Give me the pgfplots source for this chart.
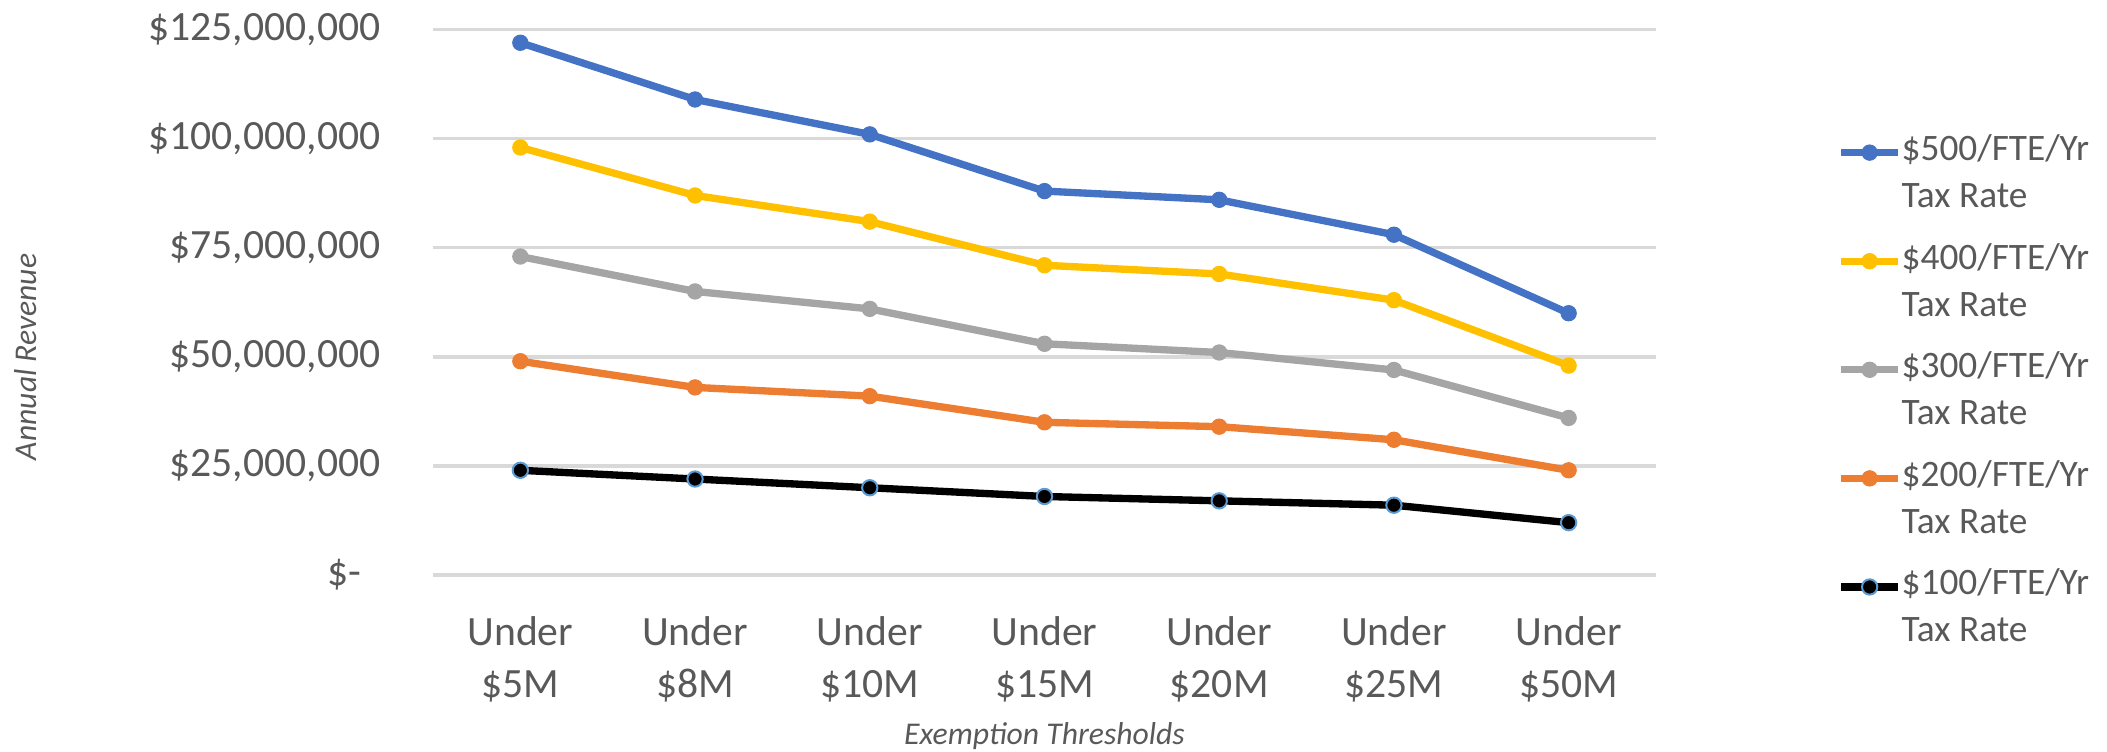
\documentclass[border=0pt]{standalone}
\usepackage{fontspec}
\setmainfont{Carlito}
\usepackage{pgfplots}
\pgfplotsset{compat=1.18}
\definecolor{cblue}{HTML}{4472C4}
\definecolor{cyellow}{HTML}{FFC000}
\definecolor{cgray}{HTML}{A5A5A5}
\definecolor{corange}{HTML}{ED7D31}
\definecolor{cmark}{HTML}{5B9BD5}
\definecolor{ctext}{HTML}{595959}
\definecolor{cgrid}{HTML}{D9D9D9}
\begin{document}
\begin{tikzpicture}
\path[use as bounding box] (-129.9pt,-52.8pt) rectangle (502.2pt,172.5pt);
\begin{axis}[
  at={(0pt,0pt)}, anchor=south west,
  scale only axis, width=366.9pt, height=163.6pt,
  xmin=0.5, xmax=7.5, ymin=0, ymax=125000000,
  xtick={1,...,7},
  xticklabels={Under\\\$5M, Under\\\$8M, Under\\\$10M, Under\\\$15M, Under\\\$20M, Under\\\$25M, Under\\\$50M},
  ytick={0,25000000,50000000,75000000,100000000,125000000},
  yticklabels={\$-\hspace*{5.7pt}, {\$25,000,000}, {\$50,000,000}, {\$75,000,000}, {\$100,000,000}, {\$125,000,000}},
  scaled y ticks=false,
  major tick length=0pt,
  axis line style={draw=none},
  ymajorgrids, grid style={cgrid, line width=1pt},
  xticklabel style={align=center, inner sep=0pt, yshift=-12.4pt, font=\fontsize{12.5}{15.5}\selectfont, text=ctext},
  yticklabel style={inner sep=0pt, xshift=-15.6pt, font=\fontsize{12.5}{15}\selectfont, text=ctext},
  xlabel={Exemption Thresholds},
  ylabel={Annual Revenue},
  xlabel style={at={(axis description cs:0.5,-0.295)}, anchor=center, font=\fontsize{9.5}{11}\selectfont\itshape, text=ctext},
  ylabel style={at={(axis description cs:-0.333,0.40)}, anchor=center, font=\fontsize{9.5}{11}\selectfont\itshape, text=ctext},
  legend cell align=left,
  legend style={at={(axis description cs:1.148,0.809)}, anchor=north west, draw=none, fill=none,
    font=\fontsize{11.2}{14.1}\selectfont, text=ctext, row sep=9.2pt, inner sep=0pt,
    nodes={inner sep=0pt, align=left},
    /tikz/every even column/.append style={column sep=1pt}},
  legend image code/.code={\draw[yshift=6.25pt, mark repeat=2,mark phase=2] plot coordinates {(0pt,0pt) (8.5pt,0pt) (17pt,0pt)};},
  every axis plot/.append style={line width=2.2pt, mark=*, mark size=2.3pt},
]
\addplot[cblue, mark options={fill=cblue, draw=cblue, line width=0.3pt}] coordinates {(1,122000000) (2,109000000) (3,101000000) (4,88000000) (5,86000000) (6,78000000) (7,60000000)};
\addlegendentry{\$500/FTE/Yr\\Tax Rate}
\addplot[cyellow, mark options={fill=cyellow, draw=cyellow, line width=0.3pt}] coordinates {(1,98000000) (2,87000000) (3,81000000) (4,71000000) (5,69000000) (6,63000000) (7,48000000)};
\addlegendentry{\$400/FTE/Yr\\Tax Rate}
\addplot[cgray, mark options={fill=cgray, draw=cgray, line width=0.3pt}] coordinates {(1,73000000) (2,65000000) (3,61000000) (4,53000000) (5,51000000) (6,47000000) (7,36000000)};
\addlegendentry{\$300/FTE/Yr\\Tax Rate}
\addplot[corange, mark options={fill=corange, draw=corange, line width=0.3pt}] coordinates {(1,49000000) (2,43000000) (3,41000000) (4,35000000) (5,34000000) (6,31000000) (7,24000000)};
\addlegendentry{\$200/FTE/Yr\\Tax Rate}
\addplot[black, mark options={fill=black, draw=cmark, line width=0.6pt}] coordinates {(1,24000000) (2,22000000) (3,20000000) (4,18000000) (5,17000000) (6,16000000) (7,12000000)};
\addlegendentry{\$100/FTE/Yr\\Tax Rate}
\end{axis}
\end{tikzpicture}
\end{document}
